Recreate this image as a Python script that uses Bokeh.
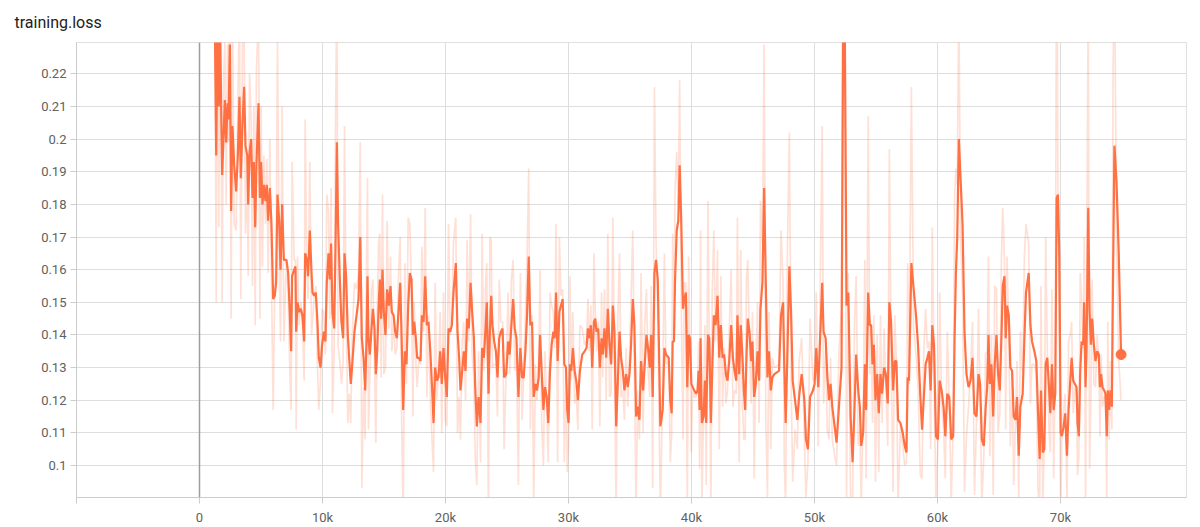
from bokeh.plotting import figure
from bokeh.models import Range1d, FixedTicker, Span, NumeralTickFormatter
from bokeh.embed import file_html
from bokeh.resources import INLINE

title_text = "training.loss"
x_ticks = [-10000, 0, 10000, 20000, 30000, 40000, 50000, 60000, 70000]
x_labels = ["", "0", "10k", "20k", "30k", "40k", "50k", "60k", "70k"]
y_ticks = [0.10, 0.11, 0.12, 0.13, 0.14, 0.15, 0.16, 0.17, 0.18, 0.19, 0.20, 0.21, 0.22]

steps = [
    1250, 1360, 1460, 1570, 1680, 1840, 1950, 2060, 2170, 2280,
    2360, 2470, 2570, 2680, 2820, 2980, 3120, 3250, 3360, 3500,
    3630, 3740, 3880, 3960, 4070, 4200, 4310, 4420, 4530, 4630,
    4800, 4910, 5010, 5120, 5230, 5370, 5470, 5580, 5720, 5850,
    5990, 6120, 6230, 6340, 6480, 6590, 6720, 6860, 7070, 7210,
    7340, 7450, 7530, 7700, 7800, 7860, 7970, 8100, 8240, 8370,
    8510, 8590, 8730, 8830, 8970, 9110, 9190, 9320, 9460, 9590,
    9700, 9840, 9970, 10110, 10240, 10350, 10490, 10600, 10700, 10810,
    10950, 11060, 11170, 11270, 11410, 11540, 11680, 11790, 11920, 12060, 12170, 12300, 12420, 12600,
    12770, 12930, 13070, 13200, 13340, 13470, 13580, 13660, 13740, 13850,
    13990, 14100, 14230, 14340, 14450, 14560, 14660, 14770, 14880, 14990,
    15120, 15260, 15400, 15530, 15640, 15780, 15910, 16050, 16180, 16320,
    16430, 16560, 16700, 16830, 16970, 17100, 17240, 17350, 17460, 17590,
    17700, 17840, 17970, 18080, 18220, 18350, 18490, 18620, 18780, 18920,
    19030, 19160, 19300, 19430, 19570, 19700, 19840, 19980, 20110, 20250,
    20380, 20520, 20650, 20840, 20980, 21110, 21220, 21360, 21490, 21630,
    21760, 21900, 22040, 22170, 22310, 22420, 22550, 22690, 22850, 22980,
    23120, 23260, 23360, 23500, 23610, 23720, 23820, 23960, 24100, 24230,
    24370, 24500, 24640, 24770, 24940,
    25090, 25220, 25360, 25500, 25630, 25770, 25930, 26090, 26230, 26360,
    26500, 26630, 26770, 26900, 27040, 27170, 27310, 27440, 27580, 27690,
    27820, 27960, 28090, 28230, 28360, 28500, 28630, 28770, 28880, 28990,
    29120, 29260, 29390, 29530, 29660, 29800, 29900, 30010, 30120, 30230,
    30360, 30500, 30630, 30770, 30930, 31120, 31310, 31470, 31580, 31690,
    31820, 31930, 32070, 32180, 32280, 32420, 32550, 32690, 32790, 32930,
    33070, 33200, 33340, 33470, 33610, 33740, 33880, 34010, 34150, 34280,
    34420, 34550, 34690, 34820, 34960, 35090, 35230, 35360, 35500, 35630,
    35770, 35900, 36070, 36200, 36340, 36470, 36610, 36720, 36850, 36990,
    37120, 37260, 37470, 37660, 37800, 37930, 38150, 38280, 38390, 38470,
    38580, 38660, 38800, 38930, 39040, 39170, 39310, 39420, 39550, 39660,
    39770, 39880, 39990, 40100, 40230, 40370, 40500, 40580, 40660, 40740,
    40850, 40990, 41090, 41200, 41340, 41450, 41580, 41690, 41820, 41960,
    42120, 42260, 42390, 42530, 42660, 42800, 42930, 43070, 43230, 43370,
    43500, 43640, 43740, 43880, 44010, 44150, 44260, 44370, 44470, 44580,
    44720, 44850, 44960, 45100, 45230, 45370, 45500, 45610, 45770, 45910,
    46040, 46180, 46310, 46450, 46580, 46740, 47120, 47280, 47450, 47550,
    47660, 47800, 47960, 48100, 48230, 48420, 48610, 48750, 48960, 49180,
    49310, 49470, 49640, 49880, 50010, 50150, 50310, 50630, 50740, 50910,
    51040, 51180, 51310, 51450, 51640, 51800, 51990, 52200, 52340, 52450,
    52610, 52750, 52940, 53100, 53260, 53390, 53560, 53690, 53800, 53960,
    54100, 54200, 54370, 54500, 54610, 54720, 54830, 54960, 55100, 55230,
    55370, 55500, 55660, 55800, 55960, 56090, 56230, 56390, 56530, 56660,
    56800, 56990, 57180, 57340, 57480, 57580, 57690, 57880, 58070, 58260,
    58420, 58610, 58750, 58880, 59040, 59180, 59310, 59450, 59580, 59720,
    59880, 60040, 60180, 60340, 60500, 60640, 60800, 60960, 61120, 61280,
    61390, 61500, 61610, 61740, 61880, 62040, 62200, 62360, 62530, 62690,
    62850, 63010, 63180, 63340, 63470, 63610, 63770, 63910, 64040, 64150,
    64260, 64390, 64530, 64660, 64800, 64930, 65070, 65200, 65310, 65450,
    65550, 65660, 65800, 65930, 66070, 66200, 66340, 66470, 66610, 66740,
    66930, 67070, 67200, 67420, 67560, 67690, 67880, 68040, 68180, 68310,
    68420, 68560, 68690, 68800, 68930, 69070, 69180, 69310, 69450, 69580,
    69690, 69800, 69910, 70020, 70120, 70260, 70390, 70530, 70660, 70800,
    70910, 71040, 71180, 71310, 71390, 71500, 71610, 71720, 71850, 71930,
    72040, 72120, 72260, 72370, 72480, 72580, 72720, 72850, 72990, 73120,
    73210, 73310, 73420, 73560, 73660, 73770, 73850, 73960, 74070, 74180,
    74280, 74390, 74560, 74740, 74930,
]

smoothed = [
    .235, .195, .235, .210, .232, .189, .200, .212, .199, .211,
    .206, .229, .178, .204, .192, .184, .195, .213, .188, .205,
    .216, .198, .195, .180, .196, .200, .182, .193, .173, .192,
    .211, .182, .193, .180, .186, .181, .186, .175, .185, .174,
    .151, .152, .156, .183, .175, .160, .180, .163, .163, .159,
    .147, .135, .158, .160, .161, .141, .150, .147, .148, .146,
    .138, .165, .163, .158, .172, .159, .153, .152, .153, .144,
    .133, .130, .137, .141, .138, .156, .165, .157, .168, .147,
    .142, .167, .199, .174, .157, .144, .139, .165, .158, .140, .133, .125, .131, .141,
    .146, .151, .170, .139, .133, .123, .138, .158, .139, .134,
    .142, .148, .142, .128, .135, .148, .157, .145, .160, .147,
    .140, .154, .149, .155, .147, .146, .141, .139, .147, .156,
    .140, .117, .135, .131, .149, .159, .157, .140, .144, .139,
    .133, .133, .132, .146, .144, .158, .143, .144, .134, .123,
    .113, .130, .126, .127, .135, .125, .136, .127, .121, .142,
    .141, .143, .153, .162, .141, .133, .123, .129, .135, .129,
    .145, .142, .156, .147, .139, .124, .112, .121, .113, .136,
    .133, .142, .150, .122, .141, .152, .143, .138, .135, .127,
    .139, .141, .142, .127, .128,
    .138, .134, .143, .151, .142, .139, .121, .136, .127, .127,
    .135, .146, .164, .143, .144, .121, .125, .123, .127, .140,
    .129, .117, .124, .121, .113, .129, .137, .141, .139, .153,
    .132, .147, .149, .151, .131, .130, .117, .113, .131, .129,
    .136, .129, .126, .120, .129, .134, .135, .136, .142, .139,
    .143, .130, .144, .145, .141, .142, .130, .139, .134, .142,
    .133, .148, .137, .131, .149, .141, .112, .125, .141, .133,
    .129, .123, .128, .124, .128, .137, .151, .143, .115, .118,
    .114, .132, .123, .131, .140, .136, .130, .140, .121, .159,
    .163, .157, .112, .117, .136, .134, .133, .120, .116, .138,
    .138, .156, .172, .175, .192, .175, .148, .151, .153, .124,
    .140, .139, .125, .124, .123, .122, .123, .129, .117, .139,
    .113, .115, .126, .113, .140, .139, .113, .129, .146, .143,
    .152, .133, .143, .133, .134, .128, .126, .132, .143, .133,
    .129, .126, .146, .128, .143, .133, .123, .117, .133, .145,
    .141, .132, .138, .121, .125, .135, .126, .148, .156, .185,
    .157, .127, .135, .123, .127, .128, .129, .146, .150, .130,
    .113, .134, .161, .147, .126, .120, .114, .121, .128, .120,
    .108, .105, .121, .123, .125, .136, .124, .156, .141, .139,
    .128, .120, .125, .118, .112, .107, .118, .130, .240, .245,
    .149, .153, .115, .101, .118, .134, .123, .118, .106, .110,
    .131, .117, .153, .143, .143, .131, .137, .120, .128, .116,
    .128, .122, .130, .128, .119, .150, .144, .123, .132, .132,
    .114, .113, .110, .106, .104, .127, .126, .162, .154, .146,
    .137, .121, .111, .120, .131, .133, .135, .123, .143, .137,
    .109, .108, .126, .123, .118, .109, .122, .121, .108, .109,
    .138, .159, .170, .200, .188, .174, .141, .128, .124, .126,
    .133, .116, .115, .128, .125, .108, .106, .117, .124, .140,
    .125, .131, .115, .131, .140, .128, .123, .139, .155, .158,
    .139, .149, .146, .130, .129, .115, .114, .121, .103, .118,
    .122, .139, .153, .159, .143, .138, .135, .132, .116, .102,
    .123, .104, .105, .131, .133, .124, .116, .131, .117, .122,
    .182, .183, .164, .110, .109, .112, .116, .103, .117, .126,
    .133, .126, .125, .124, .113, .109, .129, .138, .137, .150,
    .124, .135, .179, .147, .137, .145, .137, .132, .135, .134,
    .124, .128, .124, .123, .122, .109, .123, .117, .123, .118,
    .159, .198, .187, .165, .134,
]

raw = [
    .240, .150, .295, .173, .265, .150, .217, .230, .180, .229,
    .199, .264, .145, .243, .174, .172, .212, .240, .151, .231,
    .233, .171, .191, .158, .220, .206, .155, .210, .143, .221,
    .240, .145, .210, .161, .195, .174, .194, .159, .200, .157,
    .117, .154, .162, .232, .163, .138, .210, .138, .163, .153,
    .129, .117, .193, .163, .163, .111, .164, .143, .150, .143,
    .126, .206, .160, .151, .193, .140, .144, .151, .155, .131,
    .117, .126, .148, .147, .134, .183, .178, .145, .185, .116,
    .135, .205, .247, .137, .132, .125, .132, .204, .148, .113, .122, .113, .140, .156,
    .154, .159, .199, .093, .124, .108, .161, .188, .111, .127,
    .154, .157, .133, .107, .146, .168, .171, .127, .183, .128,
    .130, .175, .142, .164, .135, .145, .134, .136, .159, .170,
    .116, .083, .162, .125, .176, .174, .154, .115, .150, .132,
    .124, .133, .131, .167, .141, .179, .121, .146, .119, .107,
    .098, .156, .120, .129, .147, .110, .153, .114, .112, .174,
    .140, .146, .168, .176, .110, .121, .108, .138, .144, .120,
    .169, .138, .177, .134, .127, .102, .094, .135, .101, .171,
    .129, .156, .162, .080, .170, .169, .130, .131, .131, .115,
    .157, .144, .144, .105, .130,
    .153, .128, .157, .163, .129, .135, .094, .159, .114, .127,
    .147, .163, .191, .111, .146, .087, .131, .120, .133, .160,
    .113, .100, .135, .117, .101, .153, .149, .147, .136, .174,
    .101, .170, .152, .154, .101, .129, .098, .107, .158, .126,
    .147, .119, .122, .111, .143, .142, .137, .138, .151, .135,
    .149, .111, .165, .147, .135, .144, .112, .153, .127, .154,
    .120, .171, .121, .122, .176, .129, .085, .145, .165, .121,
    .123, .114, .136, .118, .134, .151, .172, .131, .085, .123,
    .108, .159, .110, .143, .154, .130, .121, .155, .093, .216,
    .169, .148, .085, .125, .165, .131, .132, .101, .110, .171,
    .138, .183, .196, .180, .218, .150, .108, .156, .156, .085,
    .164, .137, .104, .123, .121, .121, .125, .138, .099, .172,
    .088, .118, .143, .094, .181, .137, .088, .153, .172, .138,
    .166, .105, .158, .118, .136, .119, .123, .141, .160, .118,
    .123, .122, .176, .101, .166, .118, .108, .108, .157, .163,
    .135, .119, .147, .096, .131, .150, .113, .181, .168, .229,
    .115, .090, .147, .105, .133, .130, .131, .172, .156, .100,
    .088, .166, .202, .126, .095, .111, .105, .132, .139, .108,
    .090, .101, .145, .126, .128, .153, .106, .204, .119, .136,
    .111, .108, .133, .108, .103, .100, .135, .148, .300, .253,
    .088, .159, .088, .090, .144, .158, .106, .111, .088, .116,
    .163, .096, .207, .128, .143, .113, .146, .095, .140, .098,
    .146, .113, .142, .125, .106, .197, .135, .092, .146, .132,
    .087, .112, .106, .100, .101, .162, .125, .216, .142, .134,
    .124, .097, .096, .134, .148, .136, .138, .105, .173, .128,
    .088, .107, .153, .119, .111, .096, .141, .120, .089, .111,
    .182, .191, .186, .245, .170, .153, .092, .109, .118, .129,
    .144, .091, .114, .148, .121, .088, .103, .134, .135, .164,
    .103, .140, .091, .155, .154, .110, .116, .163, .179, .163,
    .111, .164, .142, .106, .128, .094, .113, .132, .088, .141,
    .128, .164, .174, .168, .119, .131, .131, .128, .092, .088,
    .155, .088, .107, .170, .136, .111, .104, .154, .096, .130,
    .272, .185, .136, .085, .108, .117, .122, .088, .138, .140,
    .144, .116, .124, .122, .097, .103, .159, .151, .136, .170,
    .085, .152, .245, .099, .122, .157, .125, .124, .140, .132,
    .109, .134, .118, .121, .121, .090, .144, .108, .132, .111,
    .220, .257, .171, .132, .120,
]

assert len(steps) == len(smoothed) == len(raw), (len(steps), len(smoothed), len(raw))

ORANGE = "#ff7043"
FONT = "Roboto"

p = figure(width=1192, height=527, output_backend="svg", toolbar_location=None,
           x_range=Range1d(-10000, 80250), y_range=Range1d(0.0902, 0.2296),
           min_border_left=76, min_border_right=6, min_border_top=42, min_border_bottom=29,
           background_fill_color="white", border_fill_color="white")

p.title.text = title_text
p.title.text_font = FONT
p.title.text_font_size = "16px"
p.title.text_font_style = "normal"
p.title.text_color = "#212121"
p.title.offset = -62
p.title.standoff = 21

p.outline_line_color = "#e0e0e0"
p.outline_line_width = 1

p.xaxis.ticker = FixedTicker(ticks=x_ticks)
p.xaxis.major_label_overrides = {t: l for t, l in zip(x_ticks, x_labels)}
p.yaxis.ticker = FixedTicker(ticks=y_ticks)
p.yaxis.formatter = NumeralTickFormatter(format="0.[00]")

for ax in (p.xaxis, p.yaxis):
    ax.axis_line_color = "#cccccc"
    ax.major_tick_line_color = "#cccccc"
    ax.minor_tick_line_color = None
    ax.major_tick_in = 0
    ax.major_tick_out = 6
    ax.major_label_text_font = FONT
    ax.major_label_text_font_size = "13px"
    ax.major_label_text_color = "#616161"
p.yaxis.major_label_standoff = 4
p.xaxis.major_label_standoff = 6

p.xgrid.grid_line_color = "#dddddd"
p.ygrid.grid_line_color = "#dddddd"
p.xgrid.grid_line_width = 1
p.ygrid.grid_line_width = 1

p.add_layout(Span(location=0, dimension="height", line_color="#9e9e9e", line_width=1.5))

p.line(steps, raw, line_color=ORANGE, line_alpha=0.22, line_width=1.7)
p.line(steps, smoothed, line_color=ORANGE, line_width=2.2)
p.scatter([steps[-1]], [smoothed[-1]], size=10, fill_color=ORANGE, line_color=ORANGE)

open("out.html", "w").write(file_html(p, INLINE))
